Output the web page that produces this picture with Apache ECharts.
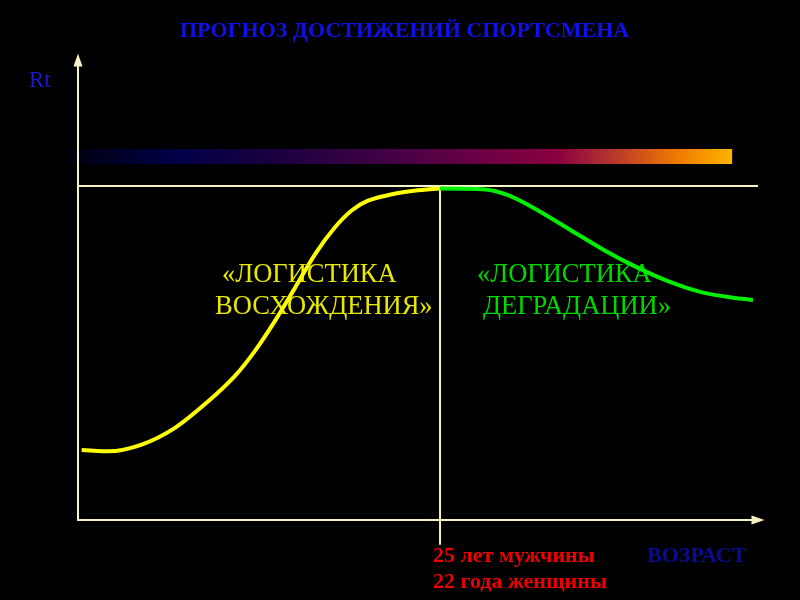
<!DOCTYPE html>
<html>
<head>
<meta charset="utf-8">
<script src="https://cdn.jsdelivr.net/npm/echarts@6/dist/echarts.min.js"></script>
<style>html,body{margin:0;padding:0;background:#000;}#c{width:800px;height:600px;}</style>
</head>
<body>
<div id="c"></div>
<script>
// Abstract scales: x = age (0..100 units), y = Rt (0..100 units)
const titleText = 'ПРОГНОЗ ДОСТИЖЕНИЙ СПОРТСМЕНА';
const yName = 'Rt';
const xName = 'ВОЗРАСТ';
const peakLabels = ['25 лет мужчины', '22 года женщины'];
const riseLabel = ['«ЛОГИСТИКА', 'ВОСХОЖДЕНИЯ»'];
const fallLabel = ['«ЛОГИСТИКА', 'ДЕГРАДАЦИИ»'];

const peakAge = 53.24;
const plateau = 72.6;
const barLevel = 79.0;
const barRange = [-4.1, 96.2];
const levelRange = [0, 100];
const peakLineRange = [plateau, -5.4];

const riseX = [0.54, 4.41, 9.37, 14.26, 19.12, 23.09, 26.03, 28.97, 31.91, 34.85, 37.79, 40.29, 42.65, 46.18, 50.0, 53.24];
const riseY = [15.22, 14.93, 16.39, 20.02, 25.76, 31.33, 36.76, 43.28, 50.46, 57.76, 63.63, 67.33, 69.41, 70.83, 71.67, 72.07];
const fallX = [53.24, 59.85, 63.24, 67.21, 72.06, 77.06, 81.91, 86.76, 91.76, 96.62, 99.26];
const fallY = [72.07, 71.87, 70.61, 67.67, 63.37, 58.93, 55.13, 51.91, 49.48, 48.26, 47.85];

const zip = (a, b) => a.map((v, i) => [v, b[i]]);
const cream = '#f7f2c4';

const chart = echarts.init(document.getElementById('c'));
const axisCommon = {
  type: 'value', min: 0, max: 100, z: 10,
  axisLine: { show: true, lineStyle: { color: cream, width: 2 }, symbol: ['none', 'triangle'], symbolSize: [9, 13] },
  axisTick: { show: false }, axisLabel: { show: false }, splitLine: { show: false }
};
chart.setOption({
  backgroundColor: '#000',
  animation: false,
  grid: { left: 78, right: 42, top: 60, bottom: 80 },
  xAxis: axisCommon,
  yAxis: axisCommon,
  series: [
    {
      type: 'line', clip: false, symbol: 'none', silent: true, z: 1,
      data: [[barRange[0], barLevel], [barRange[1], barLevel]],
      lineStyle: {
        width: 15, cap: 'butt',
        color: new echarts.graphic.LinearGradient(0, 0, 1, 0, [
          { offset: 0, color: '#000000' },
          { offset: 0.04, color: '#00000f' },
          { offset: 0.19, color: '#000048' },
          { offset: 0.34, color: '#1c0040' },
          { offset: 0.48, color: '#3e0045' },
          { offset: 0.57, color: '#5a0045' },
          { offset: 0.74, color: '#8b0040' },
          { offset: 0.81, color: '#b33030' },
          { offset: 0.91, color: '#ee7a00' },
          { offset: 1, color: '#ffbb00' }
        ])
      }
    },
    {
      type: 'line', clip: false, symbol: 'none', silent: true,
      data: [[levelRange[0], plateau], [levelRange[1], plateau]],
      lineStyle: { color: cream, width: 2 }
    },
    {
      type: 'line', clip: false, symbol: 'none', silent: true,
      data: [[peakAge, peakLineRange[0]], [peakAge, peakLineRange[1]]],
      lineStyle: { color: cream, width: 2 }
    },
    {
      type: 'line', smooth: 0.3, symbol: 'none', clip: false,
      data: zip(riseX, riseY),
      lineStyle: { color: '#ffff00', width: 4 }
    },
    {
      type: 'line', smooth: 0.3, symbol: 'none', clip: false,
      data: zip(fallX, fallY),
      lineStyle: { color: '#00ee00', width: 4 }
    }
  ],
  graphic: [
    { type: 'text', x: 180, y: 31, style: { text: titleText, fill: '#1010e8', font: 'bold 22px "Liberation Serif"', align: 'left', verticalAlign: 'middle' } },
    { type: 'text', x: 29, y: 81, style: { text: yName, fill: '#1a1ad0', font: '23px "Liberation Serif"', align: 'left', verticalAlign: 'middle' } },
    { type: 'text', x: 222, y: 275, style: { text: riseLabel[0], fill: '#e8e800', font: '26.5px "Liberation Serif"', align: 'left', verticalAlign: 'middle' } },
    { type: 'text', x: 215, y: 307, style: { text: riseLabel[1], fill: '#e8e800', font: '26.5px "Liberation Serif"', align: 'left', verticalAlign: 'middle' } },
    { type: 'text', x: 477, y: 275, style: { text: fallLabel[0], fill: '#00d800', font: '26.5px "Liberation Serif"', align: 'left', verticalAlign: 'middle' } },
    { type: 'text', x: 483, y: 307, style: { text: fallLabel[1], fill: '#00d800', font: '26.5px "Liberation Serif"', align: 'left', verticalAlign: 'middle' } },
    { type: 'text', x: 433, y: 556, style: { text: peakLabels[0], fill: '#ee0000', font: 'bold 22px "Liberation Serif"', align: 'left', verticalAlign: 'middle' } },
    { type: 'text', x: 433, y: 582, style: { text: peakLabels[1], fill: '#ee0000', font: 'bold 22px "Liberation Serif"', align: 'left', verticalAlign: 'middle' } },
    { type: 'text', x: 647, y: 556, style: { text: xName, fill: '#0b0b90', font: 'bold 22px "Liberation Serif"', align: 'left', verticalAlign: 'middle' } }
  ]
});
</script>
</body>
</html>
